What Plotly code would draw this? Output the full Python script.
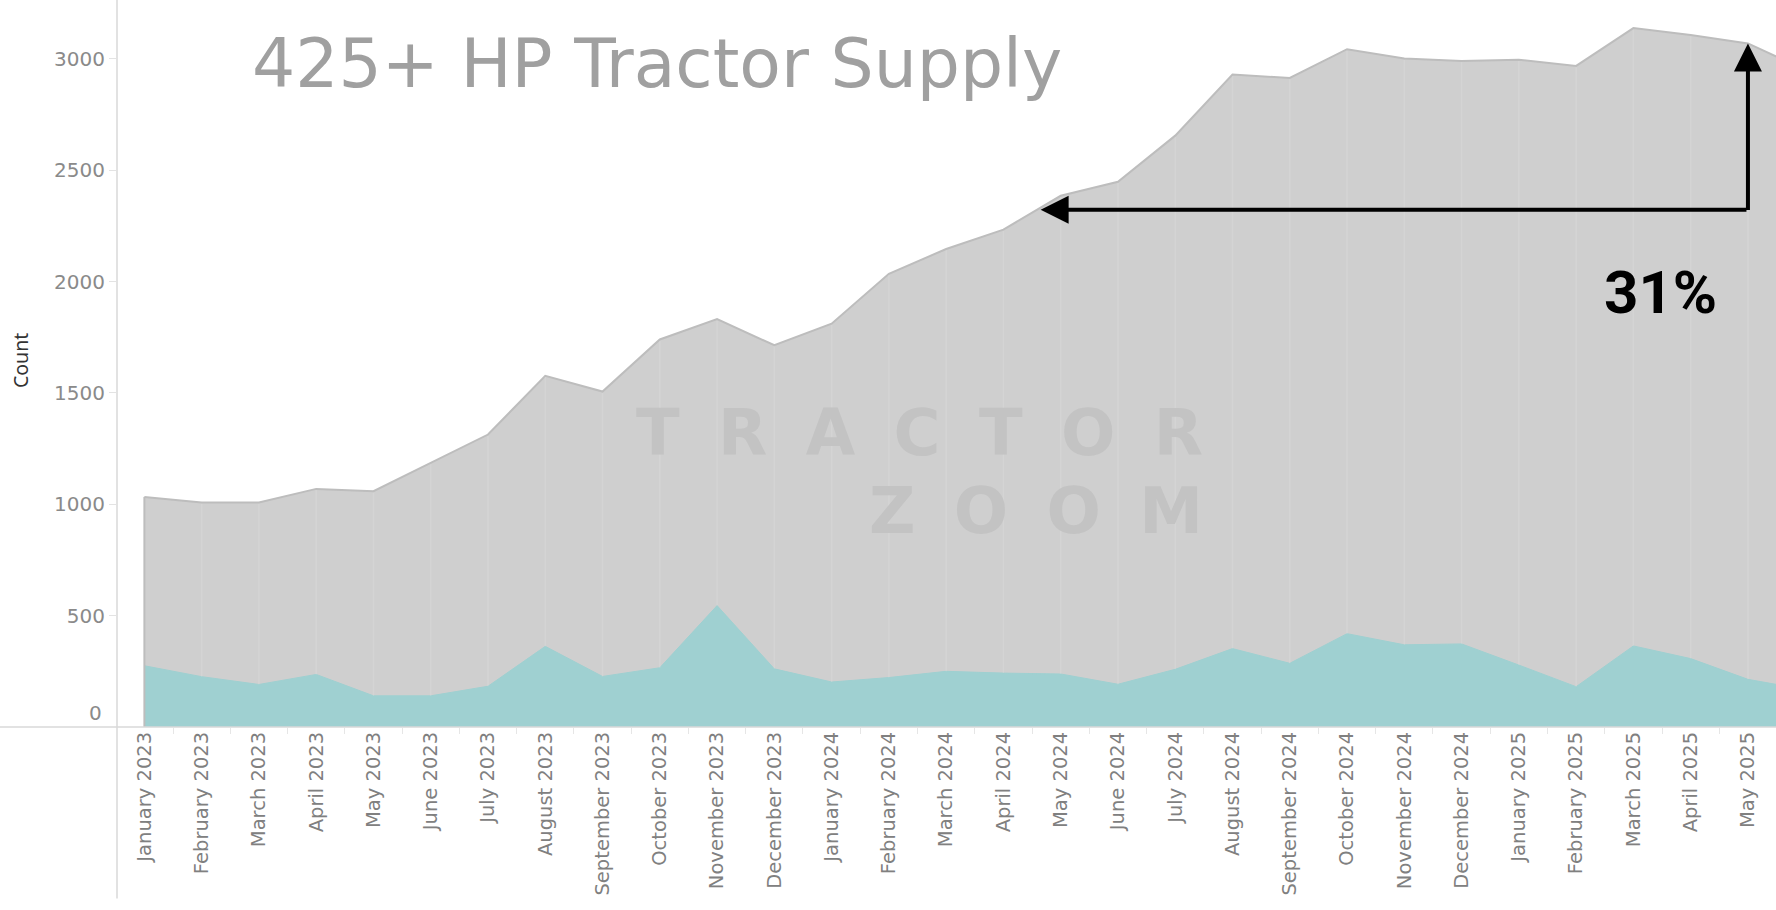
import plotly.graph_objects as go

months = [
    "January 2023", "February 2023", "March 2023", "April 2023", "May 2023", "June 2023",
    "July 2023", "August 2023", "September 2023", "October 2023", "November 2023", "December 2023",
    "January 2024", "February 2024", "March 2024", "April 2024", "May 2024", "June 2024",
    "July 2024", "August 2024", "September 2024", "October 2024", "November 2024", "December 2024",
    "January 2025", "February 2025", "March 2025", "April 2025", "May 2025", "June 2025",
]
total_supply = [
    1033, 1008, 1008, 1069, 1059, 1186, 1313, 1577, 1506, 1740, 1831, 1714,
    1811, 2035, 2146, 2233, 2385, 2448, 2655, 2929, 2914, 3043, 3001, 2990,
    2996, 2968, 3138, 3107, 3069, 2950,
]
teal_count = [
    275, 226, 191, 236, 140, 140, 183, 362, 227, 266, 545, 261,
    202, 222, 250, 242, 238, 192, 259, 352, 286, 419, 369, 373,
    278, 181, 364, 307, 214, 168,
]
y_ticks = [500, 1000, 1500, 2000, 2500, 3000]

title_text = "425+ HP Tractor Supply"
pct_text = "31%"
watermark_lines = ["TRACTOR", "ZOOM"]
arrow_level = 2322       # level of the horizontal arrow
arrow_left_x = 15.65     # where the horizontal arrow meets the curve
arrow_right_idx = 28     # May 2025

GRAY = "#cfcfcf"
GRAY_LINE = "#bdbdbd"
TEAL = "#9fd0d1"
AXIS = "#d9d9d9"

L, B, PW, PH = 117, 183, 1659, 727

fig = go.Figure()
fig.add_trace(go.Scatter(
    x=months, y=total_supply, mode="lines", fill="tozeroy",
    fillcolor=GRAY, line=dict(color=GRAY_LINE, width=2), hoverinfo="skip",
))
fig.add_trace(go.Scatter(
    x=months, y=teal_count, mode="lines", fill="tozeroy",
    fillcolor=TEAL, line=dict(color=TEAL, width=1), hoverinfo="skip",
))

shapes = []
for i, v in enumerate(total_supply):
    shapes.append(dict(type="line", xref="x", yref="y", x0=i, x1=i, y0=teal_count[i], y1=v - 6,
                       line=dict(color="rgba(255,255,255,0.12)", width=1.5), layer="above"))
shapes.append(dict(type="line", xref="x", yref="y", x0=0, x1=0, y0=0, y1=total_supply[0],
                   line=dict(color=GRAY_LINE, width=2), layer="above"))
shapes.append(dict(type="line", xref="paper", yref="paper", x0=0, x1=0, y0=-0.236, y1=1,
                   line=dict(color=AXIS, width=1.5), layer="above"))
shapes.append(dict(type="line", xref="paper", yref="paper", x0=-L / PW, x1=1, y0=0, y1=0,
                   line=dict(color=AXIS, width=1.5), layer="above"))

gap = "\u2002\u200a"
wm = "<br>".join('<span style="font-size:64px">%s</span>' % gap.join(s) for s in watermark_lines)

annotations = [
    dict(text=title_text, xref="paper", yref="paper", x=(250 - L) / PW, y=1 - 64 / PH,
         xanchor="left", yanchor="middle", showarrow=False,
         font=dict(family="DejaVu Sans", size=68, color="#a0a0a0")),
    dict(text=pct_text, xref="paper", yref="paper", x=(1660 - L) / PW, y=1 - 292 / PH,
         xanchor="center", yanchor="middle", showarrow=False,
         font=dict(family="Roboto", size=60, color="#000000", weight="bold")),
    dict(text=wm, xref="paper", yref="paper", x=(1205 - L) / PW, y=1 - 472 / PH,
         xanchor="right", yanchor="middle", align="right", showarrow=False,
         font=dict(family="DejaVu Sans", size=60, color="#c3c3c3", weight="bold")),
    dict(text="", x=arrow_left_x, y=arrow_level, ax=arrow_right_idx, ay=arrow_level,
         xref="x", yref="y", axref="x", ayref="y", showarrow=True,
         arrowhead=2, arrowsize=1.4, arrowwidth=4, arrowcolor="#000000", standoff=0),
    dict(text="", x=arrow_right_idx, y=total_supply[arrow_right_idx], ax=arrow_right_idx, ay=arrow_level - 8,
         xref="x", yref="y", axref="x", ayref="y", showarrow=True,
         arrowhead=2, arrowsize=1.4, arrowwidth=4, arrowcolor="#000000", standoff=0),
    dict(text="0", xref="paper", yref="y", x=0, y=0, xanchor="right", yanchor="middle",
         xshift=-13, yshift=14, showarrow=False,
         font=dict(family="DejaVu Sans", size=20, color="#8a8a8a")),
    dict(text="Count", xref="paper", yref="paper", x=(20 - L) / PW, y=1 - 361 / PH,
         xanchor="center", yanchor="middle", textangle=-90, showarrow=False,
         font=dict(family="Noto Sans", size=19.5, color="#333333")),
]

fig.update_layout(
    width=1776, height=910,
    margin=dict(l=L, r=0, t=0, b=B, pad=0),
    paper_bgcolor="white", plot_bgcolor="white",
    showlegend=False,
    shapes=shapes, annotations=annotations,
    xaxis=dict(
        type="category", range=[-0.478, 28.49],
        showgrid=False, zeroline=False, showline=False,
        ticks="outside", tickson="boundaries", ticklen=6, tickcolor="#e6e6e6",
        tickangle=-90, tickfont=dict(family="DejaVu Sans", size=19.5, color="#808080"),
        fixedrange=True,
    ),
    yaxis=dict(
        range=[0, 3264], showgrid=False, zeroline=False, showline=False,
        tickvals=y_ticks, ticktext=[str(v) for v in y_ticks],
        ticks="outside", ticklen=7, tickcolor="#e3e3e3",
        tickfont=dict(family="DejaVu Sans", size=20, color="#8a8a8a"),
        fixedrange=True,
    ),
)

fig.write_html(
    "out.html",
    config={"displayModeBar": False},
    post_script="document.body.style.margin='0';document.body.style.overflow='hidden';",
)
